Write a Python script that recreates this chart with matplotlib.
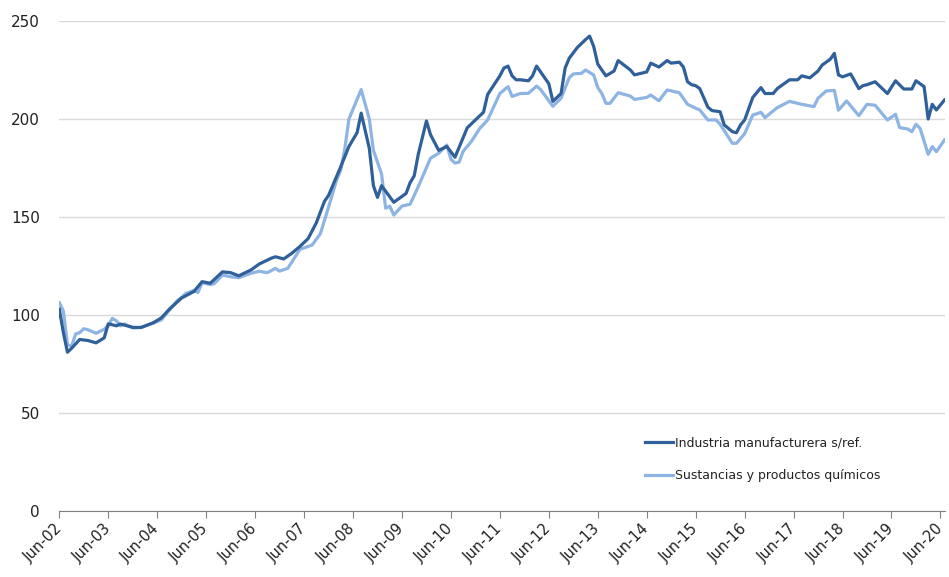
import matplotlib
matplotlib.use("Agg")
import matplotlib.pyplot as plt

# meses contados desde jun-2002 (0 = Jun-02)
meses_ind = [0, 1, 2, 3, 5, 7, 9, 11, 12, 14, 15, 18, 20, 23, 25, 27, 30, 33, 35, 37,
             40, 42, 44, 47, 49, 52, 53, 55, 57, 59, 61, 63, 65, 66, 69, 71, 73, 74, 76, 77,
             78, 79, 82, 85, 86, 87, 88, 90, 91, 93, 95, 97, 100, 101, 104, 105, 108, 109, 110, 111,
             112, 113, 115, 116, 117, 119, 120, 121, 123, 124, 125, 127, 129, 130, 131, 132, 133, 134, 136, 137,
             140, 141, 143, 144, 145, 147, 149, 150, 152, 153, 154, 155, 156, 157, 159, 160, 162, 163, 165, 166,
             167, 168, 170, 172, 173, 175, 176, 179, 181, 182, 184, 186, 187, 189, 190, 191, 192, 194, 196, 197,
             198, 200, 203, 205, 207, 209, 210, 212, 213, 214, 215, 217]
industria = [103, 91, 81, 83, 87.5, 87, 85.8, 88.3, 95.5, 94.5, 95.4, 93.7, 93.6, 96, 98.5, 103, 108.7, 112, 117, 116.2,
             122, 121.6, 120, 123, 126, 129, 129.7, 128.6, 131.5, 135, 139, 147, 158, 161, 175.7, 186, 193, 203, 185, 166,
             160, 166, 157.5, 162, 167.5, 171, 182, 199, 192, 184, 186, 180.5, 195.5, 197.5, 203.5, 212.5, 222, 226, 227, 222,
             220, 220, 219.5, 222, 227, 221, 218, 209, 213, 226, 231, 236.5, 240.5, 242.3, 237, 228, 225, 222, 224.5, 229.8,
             225, 222.5, 223.5, 224, 228.5, 226.5, 229.8, 228.5, 229, 226.5, 219, 217.5, 217, 215.5, 206, 204.3, 203.7, 197, 193.5, 193,
             197, 199.5, 211, 216, 213, 213, 215.5, 220, 220, 222, 221, 224.5, 227.5, 230.5, 233.5, 222.5, 221.5, 223, 215.5, 217,
             217.5, 219, 213, 219.5, 215.3, 215.3, 219.5, 216.5, 200, 207.5, 204.6, 209.7]

meses_quim = [0, 1, 2, 3, 4, 5, 6, 7, 9, 11, 12, 13, 14, 15, 16, 18, 20, 23, 25, 27,
              29, 30, 31, 33, 34, 35, 37, 38, 40, 42, 44, 47, 49, 51, 53, 54, 56, 57, 59, 62,
              64, 66, 68, 69, 70, 71, 72, 73, 74, 76, 77, 78, 79, 80, 81, 82, 84, 86, 88, 91,
              93, 95, 96, 97, 98, 99, 101, 103, 105, 106, 108, 110, 111, 113, 115, 117, 118, 121, 123, 125,
              126, 128, 129, 131, 132, 133, 134, 135, 137, 140, 141, 144, 145, 147, 149, 152, 154, 156, 157, 159,
              161, 162, 165, 166, 168, 170, 172, 173, 176, 179, 182, 185, 186, 188, 190, 191, 193, 196, 198, 200,
              203, 205, 206, 208, 209, 210, 211, 213, 214, 215, 217]
quimicos = [106.3, 102, 85, 84, 90.3, 91, 93, 92.5, 90.7, 92.7, 94.5, 98.3, 97, 94.5, 95.4, 93.4, 93.7, 95.8, 97.5, 102.5,
            107.5, 109, 111, 112.5, 111.5, 116.5, 115.5, 116, 120.4, 119.5, 119, 121.3, 122.3, 121.6, 123.8, 122.4, 123.8, 127, 133.5, 135.7,
            141.5, 155, 169, 174, 185, 200, 205, 210, 215, 200, 184, 178, 172, 154.5, 155.5, 151, 155.6, 156.5, 165.5, 180,
            182.5, 186.7, 179.5, 177.5, 178, 183.5, 188.5, 195, 199.5, 204, 213, 216.5, 211.5, 213, 213.1, 216.8, 215, 206.5, 210.6, 221,
            223, 223.3, 225, 222.5, 216, 213, 208, 208, 213.4, 211.7, 210, 211, 212.2, 209.3, 214.8, 213.4, 207.5, 205.5, 204.6, 199.5,
            199.5, 197.3, 187.6, 187.6, 192.5, 202, 203.4, 200.7, 205.8, 209, 207.5, 206.3, 210.6, 214.3, 214.6, 204.5, 209.2, 201.7, 207.5, 207,
            199.5, 202.4, 195.6, 194.9, 193.5, 197.3, 195.3, 182, 185.9, 183.3, 189.3]

ticks_meses = list(range(0, 217, 12))
ticks_labels = ["Jun-02", "Jun-03", "Jun-04", "Jun-05", "Jun-06", "Jun-07", "Jun-08", "Jun-09", "Jun-10",
                "Jun-11", "Jun-12", "Jun-13", "Jun-14", "Jun-15", "Jun-16", "Jun-17", "Jun-18", "Jun-19", "Jun-20"]

fig = plt.figure(figsize=(9.49, 5.77), dpi=100)
ax = fig.add_axes([59.3 / 949, 1 - 511 / 577, (944.5 - 59.3) / 949, 490 / 577])

ax.plot(meses_ind, industria, color="#30609A", lw=2.3, label="Industria manufacturera s/ref.", zorder=3)
ax.plot(meses_quim, quimicos, color="#8DB4E2", lw=2.3, label="Sustancias y productos químicos", zorder=2)

ax.set_xlim(0, 217)
ax.set_ylim(0, 250)
ax.set_yticks(range(0, 251, 50))
ax.set_xticks(ticks_meses)
ax.set_xticklabels(ticks_labels, rotation=45, ha="right", va="center", rotation_mode="anchor",
                   fontsize=10.5, color="#222222")

# grid discreto
ax.grid(axis="y", color="#D9D9D9", lw=1)
ax.set_axisbelow(True)
for s in ["top", "right", "left"]:
    ax.spines[s].set_visible(False)
ax.spines["bottom"].set_color("#808080")
ax.spines["bottom"].set_zorder(4)
ax.tick_params(axis="y", length=0, pad=14, labelsize=11, labelcolor="#222222")
ax.tick_params(axis="x", length=5, color="#808080", pad=6)

ax.legend(loc="upper left", bbox_to_anchor=(634 / 949, 1 - 425 / 577), bbox_transform=fig.transFigure,
          frameon=False, fontsize=9, handlelength=2.2, handletextpad=0.15, labelspacing=1.6,
          labelcolor="#222222")

fig.savefig("out.png", dpi=100)
